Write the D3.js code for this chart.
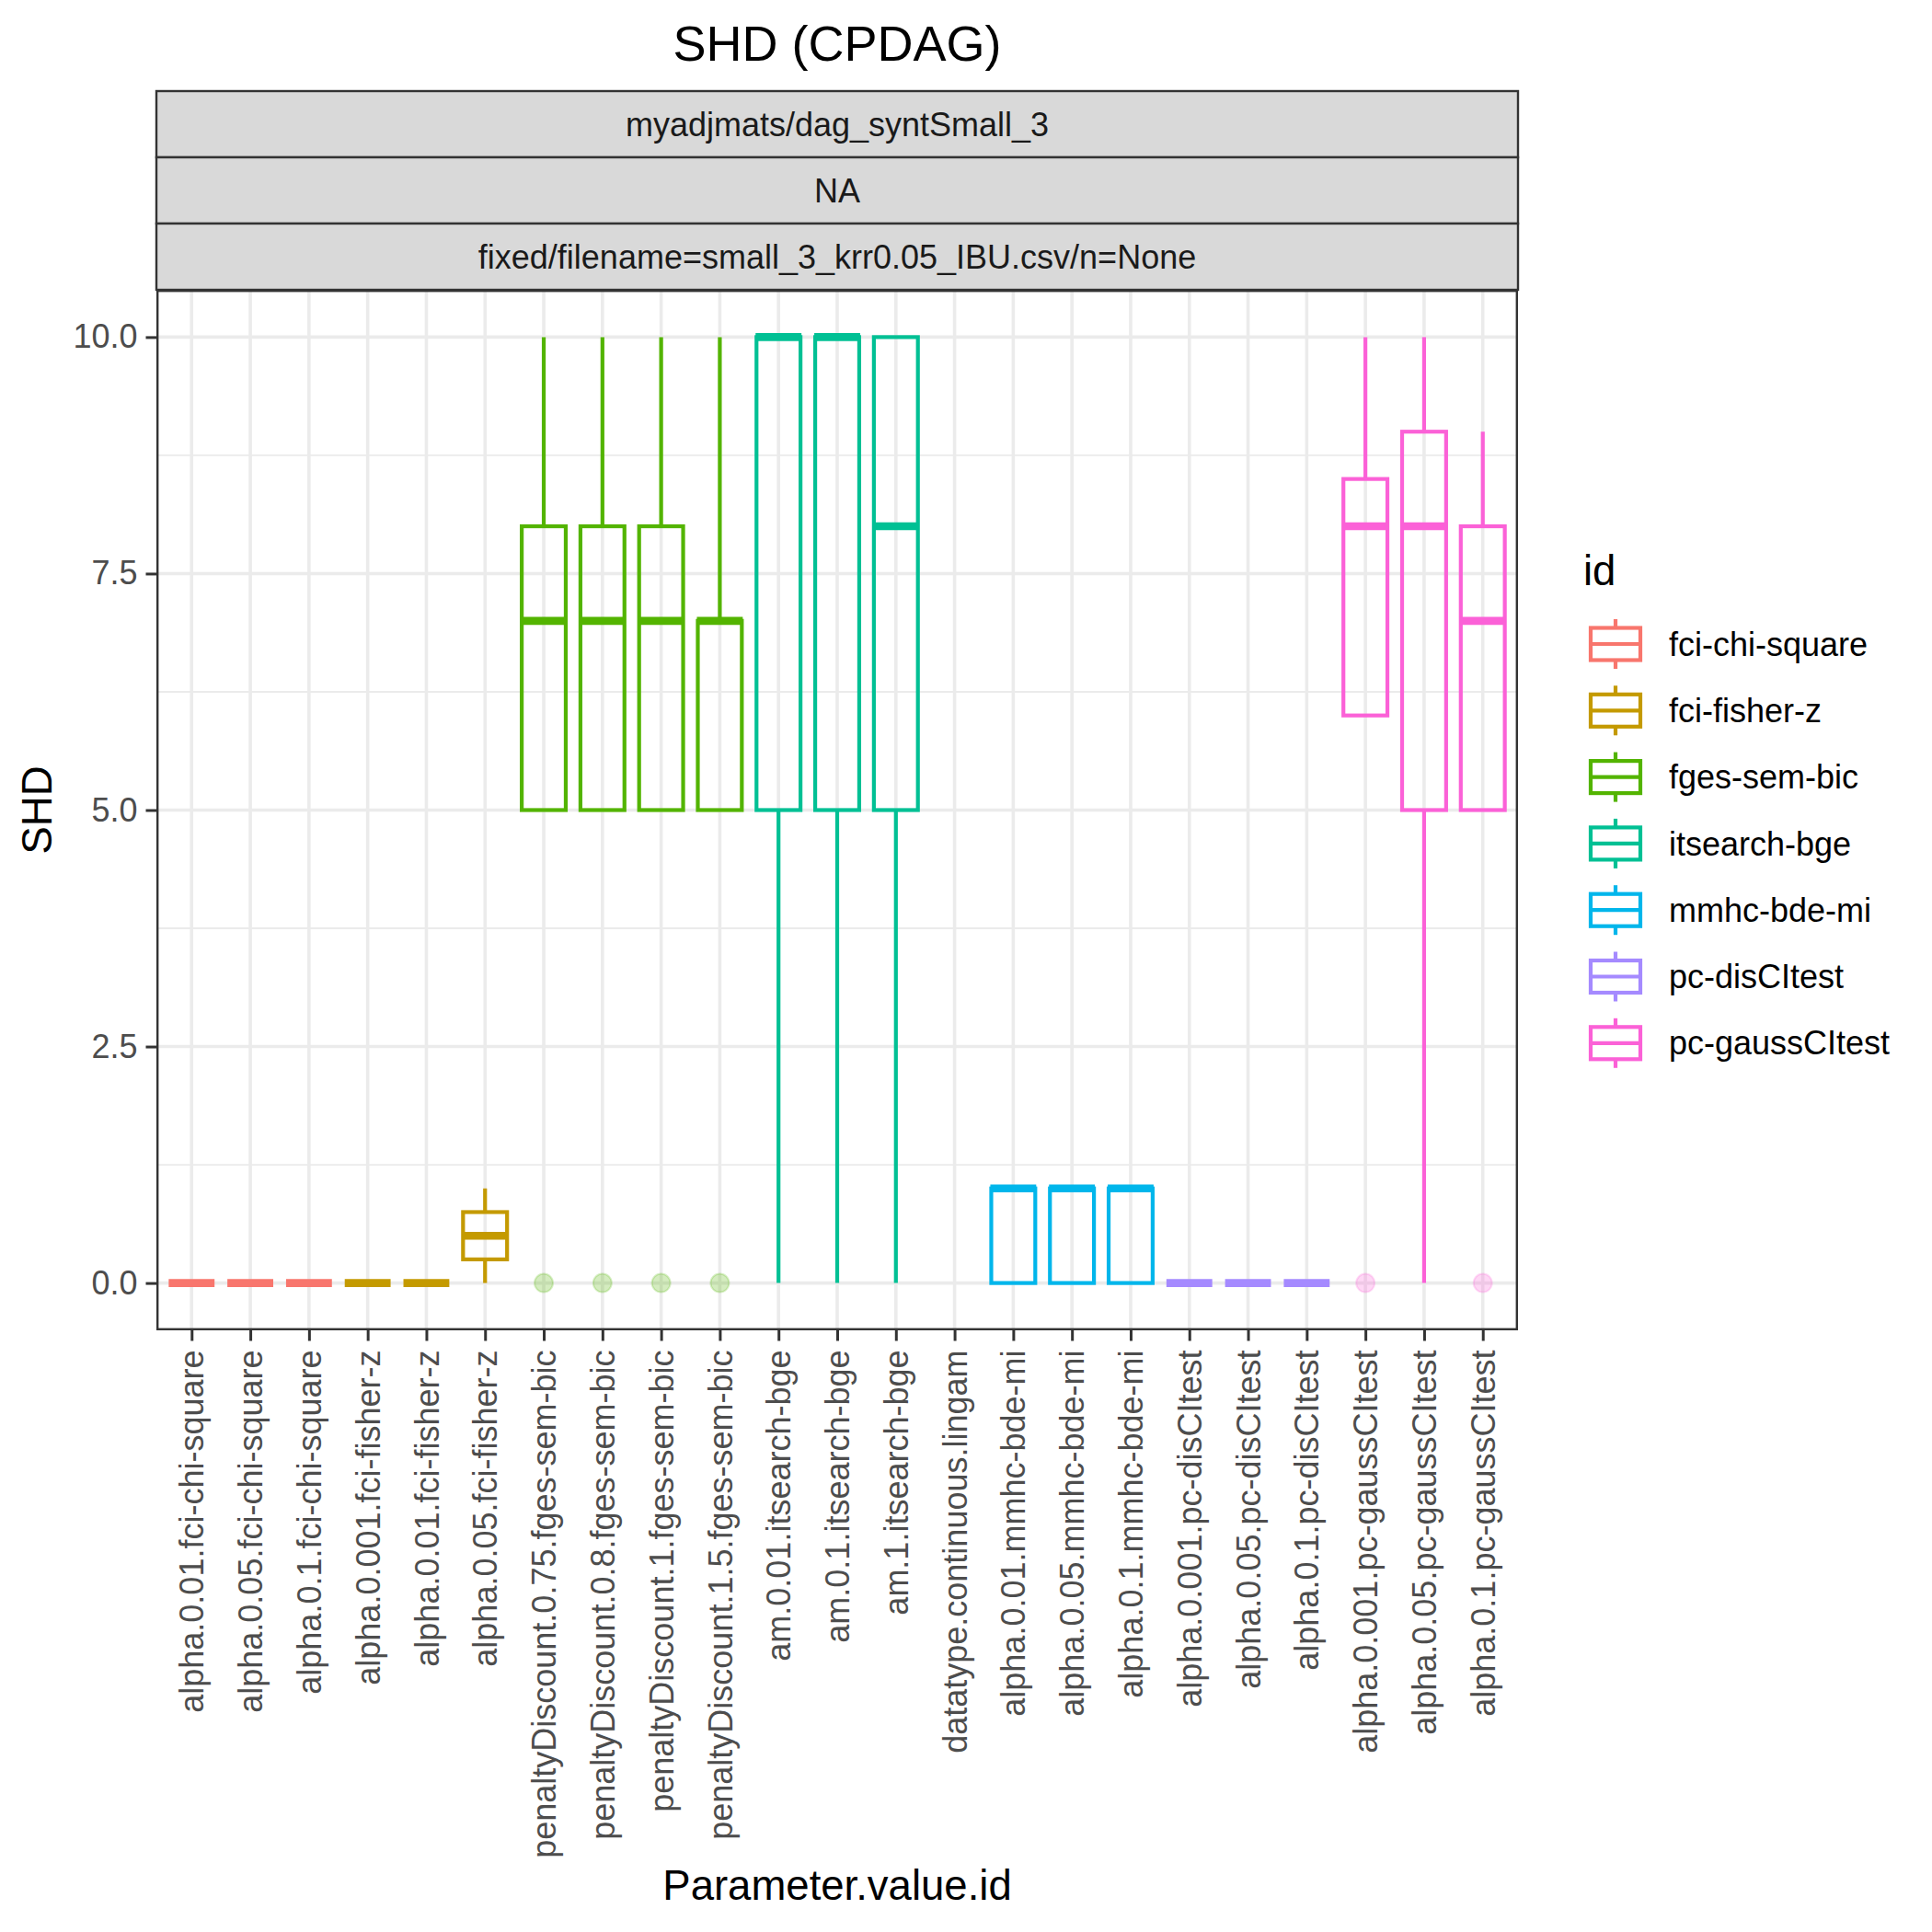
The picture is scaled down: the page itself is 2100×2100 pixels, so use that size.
<!DOCTYPE html>
<html>
  <head>
    <meta charset="utf-8">
    <title>SHD (CPDAG)</title>
    <script src="https://cdn.jsdelivr.net/npm/d3@7/dist/d3.min.js"></script>
    <style>
      body { margin: 0; background: #fff; }
      text { font-family: "Liberation Sans", Arial, Helvetica, sans-serif; }
    </style>
  </head>

  <body>
    <svg id="chart" width="2100" height="2100"></svg>

    <script>
      // chart data
      var categories = [
        "alpha.0.01.fci-chi-square", "alpha.0.05.fci-chi-square", "alpha.0.1.fci-chi-square",
        "alpha.0.001.fci-fisher-z", "alpha.0.01.fci-fisher-z", "alpha.0.05.fci-fisher-z",
        "penaltyDiscount.0.75.fges-sem-bic", "penaltyDiscount.0.8.fges-sem-bic",
        "penaltyDiscount.1.fges-sem-bic", "penaltyDiscount.1.5.fges-sem-bic",
        "am.0.01.itsearch-bge", "am.0.1.itsearch-bge", "am.1.itsearch-bge",
        "datatype.continuous.lingam",
        "alpha.0.01.mmhc-bde-mi", "alpha.0.05.mmhc-bde-mi", "alpha.0.1.mmhc-bde-mi",
        "alpha.0.001.pc-disCItest", "alpha.0.05.pc-disCItest", "alpha.0.1.pc-disCItest",
        "alpha.0.001.pc-gaussCItest", "alpha.0.05.pc-gaussCItest", "alpha.0.1.pc-gaussCItest"
      ];
      var ids = [
        "fci-chi-square", "fci-chi-square", "fci-chi-square",
        "fci-fisher-z", "fci-fisher-z", "fci-fisher-z",
        "fges-sem-bic", "fges-sem-bic", "fges-sem-bic", "fges-sem-bic",
        "itsearch-bge", "itsearch-bge", "itsearch-bge",
        null,
        "mmhc-bde-mi", "mmhc-bde-mi", "mmhc-bde-mi",
        "pc-disCItest", "pc-disCItest", "pc-disCItest",
        "pc-gaussCItest", "pc-gaussCItest", "pc-gaussCItest"
      ];
      var whiskerLow  = [0, 0, 0, 0, 0, 0,    5, 5, 5, 5, 0, 0, 0, null, 0, 0, 0, 0, 0, 0, 6, 0, 5];
      var q1          = [0, 0, 0, 0, 0, 0.25, 5, 5, 5, 5, 5, 5, 5, null, 0, 0, 0, 0, 0, 0, 6, 5, 5];
      var median      = [0, 0, 0, 0, 0, 0.5,  7, 7, 7, 7, 10, 10, 8, null, 1, 1, 1, 0, 0, 0, 8, 8, 7];
      var q3          = [0, 0, 0, 0, 0, 0.75, 8, 8, 8, 7, 10, 10, 10, null, 1, 1, 1, 0, 0, 0, 8.5, 9, 8];
      var whiskerHigh = [0, 0, 0, 0, 0, 1,    10, 10, 10, 10, 10, 10, 10, null, 1, 1, 1, 0, 0, 0, 10, 10, 9];
      var outliers    = [[], [], [], [], [], [], [0], [0], [0], [0], [], [], [], [], [], [], [], [], [], [], [0], [], [0]];

      var legendIds = ["fci-chi-square", "fci-fisher-z", "fges-sem-bic", "itsearch-bge",
        "mmhc-bde-mi", "pc-disCItest", "pc-gaussCItest"];
      var legendColours = ["#F8766D", "#C49A00", "#53B400", "#00C094", "#00B6EB", "#A58AFF", "#FB61D7"];
      var yTicks = [0, 2.5, 5, 7.5, 10];
      var yMinor = [1.25, 3.75, 6.25, 8.75];
      var stripLabels = ["myadjmats/dag_syntSmall_3", "NA", "fixed/filename=small_3_krr0.05_IBU.csv/n=None"];

      // layout
      var panel = { left: 170, right: 1650, top: 315, bottom: 1446 };
      var stripTop = 99;
      var stripHeight = (panel.top - stripTop) / stripLabels.length;
      var tickFont = 36;
      var titleFont = 45.5;

      var chart = d3.select("#chart");
      var colour = d3.scaleOrdinal().domain(legendIds).range(legendColours);

      var x = d3.scalePoint()
        .domain(categories)
        .range([panel.left, panel.right])
        .padding(0.6);
      var y = d3.scaleLinear()
        .domain([-0.5, 10.5])
        .range([panel.bottom, panel.top]);
      var boxWidth = x.step() * 0.75;

      var rows = categories.map(function(c, i) {
        return {
          category: c, id: ids[i],
          lo: whiskerLow[i], q1: q1[i], med: median[i], q3: q3[i], hi: whiskerHigh[i],
          out: outliers[i]
        };
      });

      // title
      chart.append("text")
        .attr("x", (panel.left + panel.right) / 2)
        .attr("y", 47)
        .attr("dy", "0.35em")
        .attr("text-anchor", "middle")
        .style("font-size", "54px")
        .text("SHD (CPDAG)");

      // strips
      var strips = chart.selectAll(".strip")
        .data(stripLabels)
        .enter().append("g")
          .classed("strip", true)
          .attr("transform", function(d, i) {
            return "translate(0, " + (stripTop + i * stripHeight) + ")";
          });
      strips.append("rect")
        .attr("x", panel.left)
        .attr("width", panel.right - panel.left)
        .attr("height", stripHeight)
        .attr("fill", "#D9D9D9")
        .attr("stroke", "#333333")
        .attr("stroke-width", 2.4);
      strips.append("text")
        .attr("x", (panel.left + panel.right) / 2)
        .attr("y", stripHeight / 2)
        .attr("dy", "0.35em")
        .attr("text-anchor", "middle")
        .attr("fill", "#1A1A1A")
        .style("font-size", tickFont + "px")
        .text(function(d) { return d; });

      // grid
      var grid = chart.append("g");
      grid.selectAll(".minor")
        .data(yMinor)
        .enter().append("line")
          .attr("x1", panel.left).attr("x2", panel.right)
          .attr("y1", function(d) { return y(d); })
          .attr("y2", function(d) { return y(d); })
          .attr("stroke", "#EBEBEB")
          .attr("stroke-width", 1.8);
      grid.selectAll(".major")
        .data(yTicks)
        .enter().append("line")
          .attr("x1", panel.left).attr("x2", panel.right)
          .attr("y1", function(d) { return y(d); })
          .attr("y2", function(d) { return y(d); })
          .attr("stroke", "#EBEBEB")
          .attr("stroke-width", 3.6);
      grid.selectAll(".vmajor")
        .data(categories)
        .enter().append("line")
          .attr("y1", panel.top).attr("y2", panel.bottom)
          .attr("x1", function(d) { return x(d); })
          .attr("x2", function(d) { return x(d); })
          .attr("stroke", "#EBEBEB")
          .attr("stroke-width", 3.6);

      // boxplots
      var boxes = chart.append("g")
        .selectAll(".box")
        .data(rows.filter(function(d) { return d.id !== null; }))
        .enter().append("g")
          .classed("box", true)
          .attr("stroke", function(d) { return colour(d.id); })
          .attr("fill", "none");

      boxes.append("line")
        .attr("x1", function(d) { return x(d.category); })
        .attr("x2", function(d) { return x(d.category); })
        .attr("y1", function(d) { return y(d.q3); })
        .attr("y2", function(d) { return y(d.hi); })
        .attr("stroke-width", 4.2);
      boxes.append("line")
        .attr("x1", function(d) { return x(d.category); })
        .attr("x2", function(d) { return x(d.category); })
        .attr("y1", function(d) { return y(d.q1); })
        .attr("y2", function(d) { return y(d.lo); })
        .attr("stroke-width", 4.2);
      boxes.append("rect")
        .attr("x", function(d) { return x(d.category) - boxWidth / 2; })
        .attr("width", boxWidth)
        .attr("y", function(d) { return y(d.q3); })
        .attr("height", function(d) { return y(d.q1) - y(d.q3); })
        .attr("stroke-width", 4.2);
      boxes.append("line")
        .attr("x1", function(d) { return x(d.category) - boxWidth / 2 - 1; })
        .attr("x2", function(d) { return x(d.category) + boxWidth / 2 + 1; })
        .attr("y1", function(d) { return y(d.med); })
        .attr("y2", function(d) { return y(d.med); })
        .attr("stroke-width", 8.6);

      boxes.selectAll(".outlier")
        .data(function(d) {
          return d.out.map(function(v) { return { category: d.category, id: d.id, value: v }; });
        })
        .enter().append("circle")
          .attr("cx", function(d) { return x(d.category); })
          .attr("cy", function(d) { return y(d.value); })
          .attr("r", 10)
          .attr("fill", function(d) { return colour(d.id); })
          .attr("fill-opacity", 0.25)
          .attr("stroke-opacity", 0.22)
          .attr("stroke-width", 2);

      // panel border
      chart.append("rect")
        .attr("x", panel.left + 1.2)
        .attr("y", panel.top + 1.2)
        .attr("width", panel.right - panel.left - 2.4)
        .attr("height", panel.bottom - panel.top - 2.4)
        .attr("fill", "none")
        .attr("stroke", "#333333")
        .attr("stroke-width", 2.4);

      // axes
      var yAxis = d3.axisLeft(y)
        .tickValues(yTicks)
        .tickFormat(d3.format(".1f"))
        .tickSize(11.5)
        .tickPadding(9);
      var yAxisGroup = chart.append("g")
        .attr("transform", "translate(" + panel.left + ", 0)")
        .call(yAxis);

      var xAxis = d3.axisBottom(x)
        .tickSize(11.5)
        .tickPadding(9);
      var xAxisGroup = chart.append("g")
        .attr("transform", "translate(0, " + panel.bottom + ")")
        .call(xAxis);

      chart.selectAll(".domain").remove();
      chart.selectAll(".tick line")
        .attr("stroke", "#333333")
        .attr("stroke-width", 3);
      chart.selectAll(".tick text")
        .attr("fill", "#4D4D4D")
        .style("font-size", tickFont + "px")
        .style("font-family", "'Liberation Sans', Arial, sans-serif");
      xAxisGroup.selectAll(".tick text")
        .attr("text-anchor", "end")
        .attr("transform", "translate(0, 21.5) rotate(-90)")
        .attr("x", 0)
        .attr("y", 0)
        .attr("dy", "0.35em");

      // axis titles
      chart.append("text")
        .attr("x", (panel.left + panel.right) / 2)
        .attr("y", 2049)
        .attr("dy", "0.35em")
        .attr("text-anchor", "middle")
        .style("font-size", titleFont + "px")
        .text("Parameter.value.id");
      chart.append("text")
        .attr("transform", "translate(40, " + ((panel.top + panel.bottom) / 2) + ") rotate(-90)")
        .attr("dy", "0.35em")
        .attr("text-anchor", "middle")
        .style("font-size", titleFont + "px")
        .text("SHD");

      // legend
      var legend = chart.append("g");
      legend.append("text")
        .attr("x", 1721)
        .attr("y", 620)
        .attr("dy", "0.35em")
        .style("font-size", titleFont + "px")
        .text("id");

      var keys = legend.selectAll(".key")
        .data(legendIds)
        .enter().append("g")
          .classed("key", true)
          .attr("transform", function(d, i) {
            return "translate(1756, " + (700 + i * 72.3) + ")";
          });
      keys.append("line")
        .attr("y1", -27).attr("y2", 27)
        .attr("stroke", function(d) { return colour(d); })
        .attr("stroke-width", 4.2);
      keys.append("rect")
        .attr("x", -27).attr("y", -17.5)
        .attr("width", 54).attr("height", 35)
        .attr("fill", "#fff")
        .attr("stroke", function(d) { return colour(d); })
        .attr("stroke-width", 4.2);
      keys.append("line")
        .attr("x1", -27).attr("x2", 27)
        .attr("stroke", function(d) { return colour(d); })
        .attr("stroke-width", 4.2);
      keys.append("text")
        .attr("x", 58)
        .attr("dy", "0.35em")
        .style("font-size", tickFont + "px")
        .text(function(d) { return d; });
    </script>
  </body>
</html>
